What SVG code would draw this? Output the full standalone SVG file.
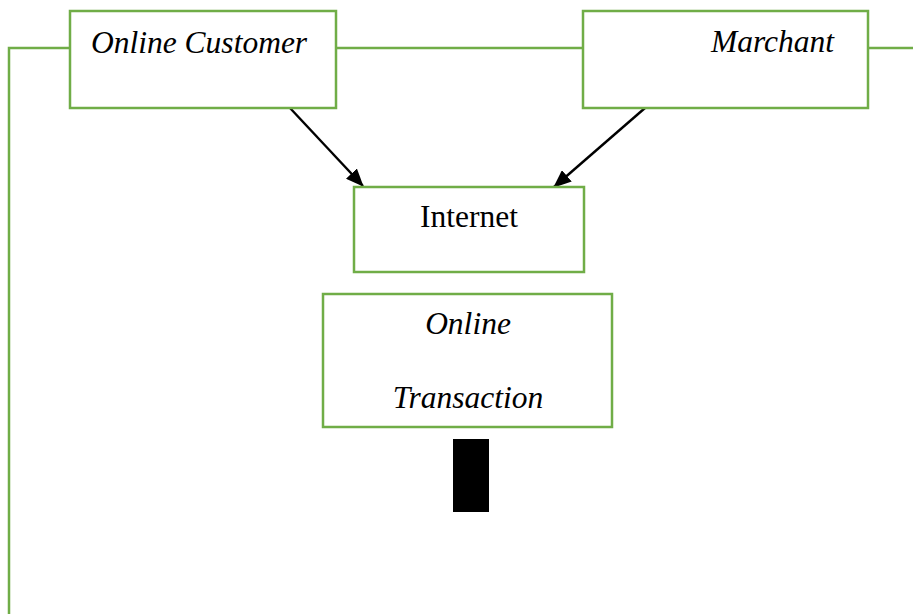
<svg xmlns="http://www.w3.org/2000/svg" width="913" height="614" viewBox="0 0 913 614">
  <style>
    .box { fill: #ffffff; stroke: #70ad47; stroke-width: 2.5; }
    .link { fill: none; stroke: #70ad47; stroke-width: 2.5; }
    .arrow { fill: none; stroke: #000000; stroke-width: 2.4; }
    .label { font-family: "Liberation Serif", "Times New Roman", serif; font-size: 31.5px; fill: #000000; }
    .it { font-style: italic; }
  </style>
  <defs>
    <marker id="head" viewBox="0 0 18 15" refX="17" refY="7.5" markerWidth="18" markerHeight="15" markerUnits="userSpaceOnUse" orient="auto">
      <path d="M0,0 L18,7.5 L0,15 Z" fill="#000000"/>
    </marker>
  </defs>
  <rect width="913" height="614" fill="#ffffff"/>

  <!-- green bus linking the two top boxes and running down the left side -->
  <g id="connectors">
    <path class="link" d="M9,614 V48 H70"/>
    <path class="link" d="M336,48 H583"/>
    <path class="link" d="M868,48 H913"/>
    <path class="arrow" d="M290,108 L363,186" marker-end="url(#head)"/>
    <path class="arrow" d="M645,108 L554,187" marker-end="url(#head)"/>
  </g>

  <g id="online-customer">
    <rect class="box" x="70" y="11" width="266" height="97"/>
    <text class="label it" x="91" y="53">Online Customer</text>
  </g>

  <g id="marchant">
    <rect class="box" x="583" y="11" width="285" height="97"/>
    <text class="label it" x="711" y="52">Marchant</text>
  </g>

  <g id="internet">
    <rect class="box" x="354" y="187" width="230" height="85"/>
    <text class="label" x="469" y="227" text-anchor="middle">Internet</text>
  </g>

  <g id="online-transaction">
    <rect class="box" x="323" y="294" width="289" height="133"/>
    <text class="label it" x="468" y="334" text-anchor="middle">Online</text>
    <text class="label it" x="468" y="408" text-anchor="middle">Transaction</text>
  </g>

  <g id="bar">
    <rect x="453" y="439" width="36" height="73" fill="#000000"/>
  </g>
</svg>
